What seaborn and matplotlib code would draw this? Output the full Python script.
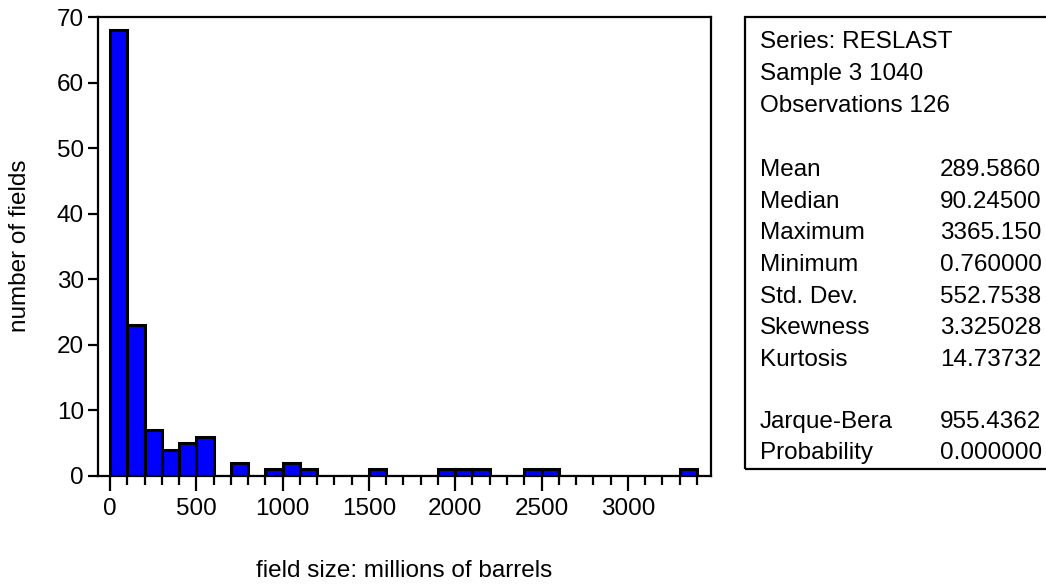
import numpy as np
import pandas as pd
import matplotlib
matplotlib.use("Agg")
import matplotlib.pyplot as plt
import matplotlib.patches as patches
import seaborn as sns

# histogram of field sizes, bins of 100 million barrels
bin_left = [0, 100, 200, 300, 400, 500, 600, 700, 800, 900, 1000, 1100,
            1200, 1300, 1400, 1500, 1600, 1700, 1800, 1900, 2000, 2100,
            2200, 2300, 2400, 2500, 2600, 2700, 2800, 2900, 3000, 3100,
            3200, 3300]
counts = [68, 23, 7, 4, 5, 6, 0, 2, 0, 1, 2, 1,
          0, 0, 0, 1, 0, 0, 0, 1, 1, 1,
          0, 0, 1, 1, 0, 0, 0, 0, 0, 0,
          0, 1]

stat_names = ["Mean", "Median", "Maximum", "Minimum", "Std. Dev.",
              "Skewness", "Kurtosis"]
stat_values = ["289.5860", "90.24500", "3365.150", "0.760000", "552.7538",
               "3.325028", "14.73732"]
jb_names = ["Jarque-Bera", "Probability"]
jb_values = ["955.4362", "0.000000"]
header = ["Series: RESLAST", "Sample 3 1040", "Observations 126"]

sns.set_style("ticks", {"text.color": "black", "xtick.color": "black",
                        "ytick.color": "black", "axes.edgecolor": "black"})
plt.rcParams["font.family"] = ["Liberation Sans", "DejaVu Sans"]
fs = 17.5

fig = plt.figure(figsize=(10.46, 5.86), dpi=100)
ax = fig.add_axes([98/1046, 1-476/586, (711-98)/1046, (476-17)/586])

df = pd.DataFrame({"size": [b + 50 for b in bin_left], "n": counts})
sns.histplot(data=df, x="size", weights="n", binwidth=100, binrange=(0, 3400),
             color="#0000ff", alpha=1, edgecolor="black", linewidth=2.2, ax=ax)

ax.set_xlim(-70, 3482)
ax.set_ylim(0, 70)
ax.set_xticks([0, 500, 1000, 1500, 2000, 2500, 3000])
ax.set_xticks(np.arange(0, 3500, 100), minor=True)
ax.set_yticks(range(0, 71, 10))
ax.tick_params(axis="x", which="major", length=11, width=1.6, labelsize=fs, pad=5)
ax.tick_params(axis="x", which="minor", length=6.5, width=1.6)
ax.tick_params(axis="y", length=7, width=1.6, labelsize=fs, pad=3)
for s in ax.spines.values():
    s.set_linewidth(1.6)
    s.set_visible(True)
ax.set_xlabel("")
ax.set_ylabel("")

fig.text(20/1046, 1-246/586, "number of fields", rotation=90, ha="center", va="center", fontsize=fs)
fig.text(404/1046, 1-571/586, "field size: millions of barrels", ha="center", va="center", fontsize=fs)

# statistics box
box = patches.Rectangle((745/1046, 1-469/586), 0.3, (469-17)/586, transform=fig.transFigure,
                        fill=False, edgecolor="black", linewidth=1.6, clip_on=False)
fig.patches.append(box)

lx = 760/1046
vx = 940/1046
for t, y in zip(header, [42, 74, 106]):
    fig.text(lx, 1-y/586, t, va="center", fontsize=fs)
stat_y = [170, 202, 233, 265, 297, 328, 360]
for n, v, y in zip(stat_names, stat_values, stat_y):
    fig.text(lx, 1-y/586, n, va="center", fontsize=fs)
    fig.text(vx, 1-y/586, v, va="center", fontsize=fs)
for n, v, y in zip(jb_names, jb_values, [422, 453]):
    fig.text(lx, 1-y/586, n, va="center", fontsize=fs)
    fig.text(vx, 1-y/586, v, va="center", fontsize=fs)

fig.savefig("out.png", dpi=100)
